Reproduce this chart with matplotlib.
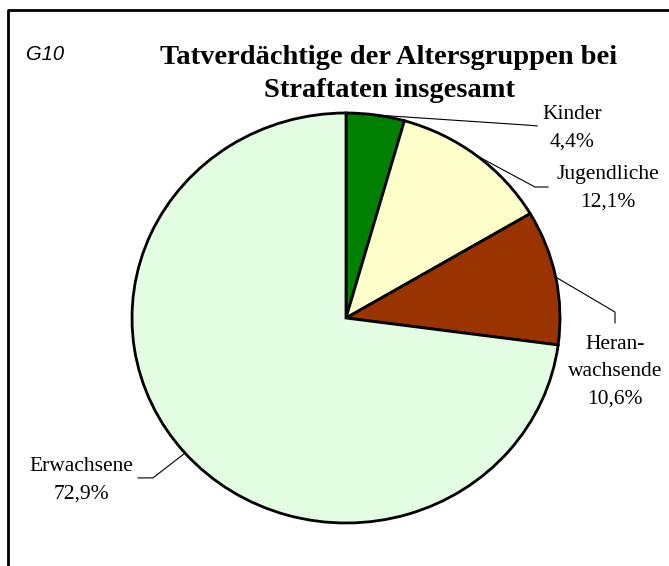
import numpy as np
import matplotlib
matplotlib.use("Agg")
import matplotlib.pyplot as plt
from matplotlib.lines import Line2D

# Anteile der Tatverdächtigen nach Altersgruppen (%)
groups = ["Kinder", "Jugendliche", "Heranwachsende", "Erwachsene"]
label_texts = ["Kinder", "Jugendliche", "Heran-\nwachsende", "Erwachsene"]
shares = [4.4, 12.1, 10.6, 72.9]
colors = ["#008000", "#FFFFCC", "#993300", "#E3FDE3"]

title = "Tatverdächtige der Altersgruppen bei\nStraftaten insgesamt"
tag = "G10"

# Beschriftungspositionen (in Radien), Knick- und Endpunkt der Führungslinien
label_pos = [(1.056, 0.927), (1.224, 0.634), (1.257, -0.263), (-1.238, -0.790)]
elbow_pos = [(0.846, 0.941), (0.883, 0.639), (1.257, 0.029), (-0.902, -0.780)]
end_pos = [(0.893, 0.937), (0.944, 0.639), (1.257, -0.024), (-0.972, -0.780)]

W, H = 669, 566
fig = plt.figure(figsize=(W / 100, H / 100), dpi=100)

# Pie sitzt als leicht gestreckte Ellipse: Mitte (346, 318), rx 214, ry 205 px
cx, cy, rx, ry = 346, 318, 214, 205
ax = fig.add_axes([(cx - rx) / W, (H - cy - ry) / H, 2 * rx / W, 2 * ry / H])
ax.pie(shares, colors=colors, startangle=90, counterclock=False,
       wedgeprops=dict(edgecolor="black", linewidth=2.0))
ax.set_aspect("auto")
ax.set_xlim(-1, 1)
ax.set_ylim(-1, 1)
ax.axis("off")

cum = np.cumsum([0] + shares[:-1])
for i, share in enumerate(shares):
    mid = np.deg2rad((cum[i] + share / 2) / 100 * 360)
    sx, sy = np.sin(mid), np.cos(mid)
    ex, ey = elbow_pos[i]
    fx, fy = end_pos[i]
    ax.plot([sx, ex, fx], [sy, ey, fy], color="black", lw=0.8, clip_on=False)
    txt = f"{label_texts[i]}\n{share:.1f}%".replace(".", ",")
    ax.text(label_pos[i][0], label_pos[i][1], txt, ha="center", va="center",
            fontsize=15.5, family="Liberation Serif", linespacing=1.6,
            clip_on=False)

fig.text(389 / W, 1 - 74 / H, title, ha="center", va="center",
         fontsize=20.5, fontweight="bold", family="Liberation Serif",
         linespacing=1.45)
fig.text(26 / W, 1 - 55 / H, tag, ha="left", va="center",
         fontsize=14.5, style="italic", family="Liberation Sans")

# Rahmen (nur links und oben sichtbar)
bx, by = 8 / W, 1 - 10 / H
fig.add_artist(Line2D([bx, bx, 1.0], [0.0, by, by], transform=fig.transFigure,
                      color="black", lw=2.0))

fig.savefig("out.png", dpi=100)
